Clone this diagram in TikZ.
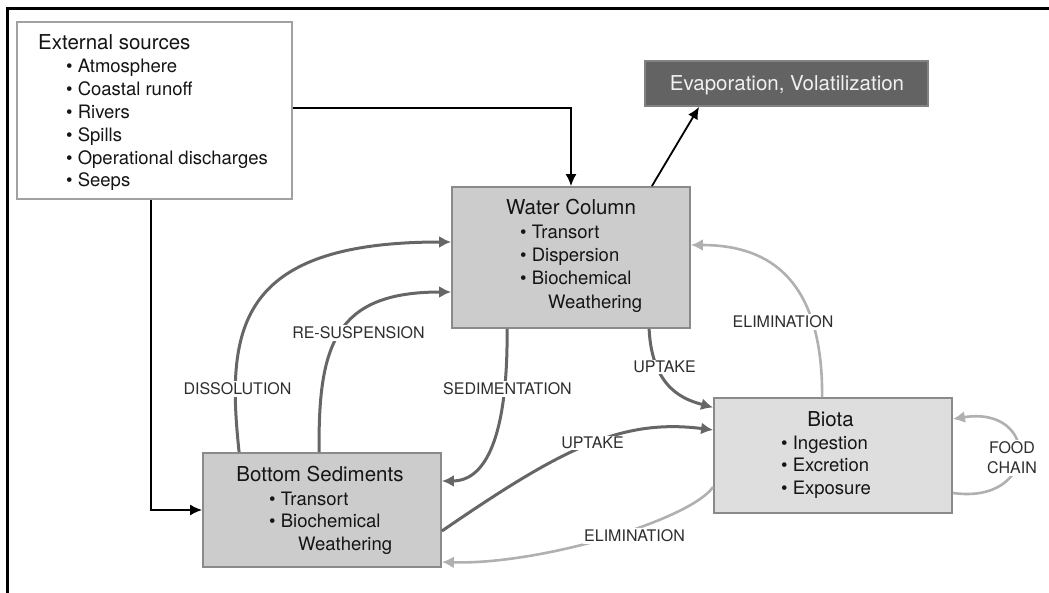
\documentclass[tikz,border=0pt]{standalone}
\usepackage{fontspec}
\setmainfont{TeX Gyre Heros}
\usetikzlibrary{arrows.meta}
\definecolor{boxborder}{HTML}{8A8A8A}
\definecolor{midfill}{HTML}{CCCCCC}
\definecolor{lightfill}{HTML}{DEDEDE}
\definecolor{evapfill}{HTML}{636363}
\definecolor{evaptext}{HTML}{F0F0F0}
\definecolor{darkarrow}{HTML}{666666}
\definecolor{lightarrow}{HTML}{B0B0B0}
\definecolor{lbltext}{HTML}{2E2E2E}
\definecolor{boxtext}{HTML}{151515}
\begin{document}
\begin{tikzpicture}[x=1pt,y=-1pt,
  boxnode/.style={draw=boxborder, line width=1.8pt, inner sep=0pt},
  hdr/.style={font=\fontsize{20.5}{24}\selectfont, text=boxtext, inner sep=0pt, anchor=base},
  itm/.style={font=\fontsize{18.5}{22}\selectfont, text=boxtext, inner sep=0pt, anchor=base west},
  lbl/.style={font=\fontsize{16}{19}\selectfont, text=lbltext, fill=white, inner sep=1.5pt},
  blk/.style={draw=black, line width=1.8pt, -{Latex[length=12pt,width=11pt]}},
  drk/.style={draw=darkarrow, line width=3pt, -{Latex[length=12pt,width=12pt]}},
  lgt/.style={draw=lightarrow, line width=2.6pt, -{Latex[length=12pt,width=12pt]}}
]
\useasboundingbox (0,0) rectangle (1049,593);
\draw[line width=2.4pt] (1049,8.5) -- (7.5,8.5) -- (7.5,593);

% boxes
\node[boxnode, fill=white, draw=boxborder!80!white, minimum width=275pt, minimum height=177pt] (ext) at (154.5,110.5) {};
\node[boxnode, fill=evapfill, draw=evapfill!80!white, minimum width=283pt, minimum height=45pt] (evap) at (786.5,83.5) {};
\node[boxnode, fill=midfill, minimum width=238pt, minimum height=141pt] (wc) at (571,257.5) {};
\node[boxnode, fill=midfill, minimum width=238pt, minimum height=114pt] (bs) at (322,510) {};
\node[boxnode, fill=lightfill, minimum width=238pt, minimum height=115pt] (biota) at (833,455.5) {};

% external sources text
\node[hdr, anchor=base west] (exth) at (38,50) {External sources};
\node[itm] (ext1) at (66,72.5) {\textbullet\ Atmosphere};
\node[itm] (ext2) at (66,95.4) {\textbullet\ Coastal runoff};
\node[itm] (ext3) at (66,118.3) {\textbullet\ Rivers};
\node[itm] (ext4) at (66,141.2) {\textbullet\ Spills};
\node[itm] (ext5) at (66,164.1) {\textbullet\ Operational discharges};
\node[itm] (ext6) at (66,187) {\textbullet\ Seeps};

% evaporation text
\node[hdr, text=evaptext] (evapt) at (787,91) {Evaporation, Volatilization};

% water column text
\node[hdr] (wch) at (571,215) {Water Column};
\node[itm] (wc1) at (520,238.3) {\textbullet\ Transort};
\node[itm] (wc2) at (520,261.7) {\textbullet\ Dispersion};
\node[itm] (wc3) at (520,284.5) {\textbullet\ Biochemical};
\node[itm] (wc4) at (548,308.3) {Weathering};

% bottom sediments text
\node[hdr] (bsh) at (320,481.7) {Bottom Sediments};
\node[itm] (bs1) at (269,505) {\textbullet\ Transort};
\node[itm] (bs2) at (269,527.5) {\textbullet\ Biochemical};
\node[itm] (bs3) at (298,550) {Weathering};

% biota text
\node[hdr] (bih) at (830.5,426) {Biota};
\node[itm] (bi1) at (781,449.3) {\textbullet\ Ingestion};
\node[itm] (bi2) at (781,471.7) {\textbullet\ Excretion};
\node[itm] (bi3) at (781,494.3) {\textbullet\ Exposure};

% black connectors
\draw[blk] ([yshift=2.5pt]ext.east) -| (wc.north);
\draw[blk] ([xshift=-3.5pt]ext.south) |- (bs.west);
\draw[blk] ([xshift=-39pt]wc.north east) -- ([xshift=55pt]evap.south west);

% dark gray connectors
\draw[drk] ([xshift=37pt]bs.north west) .. controls (226,330) and (236,242) .. ([yshift=15.5pt]wc.west);
\draw[drk] ([xshift=117pt]bs.north west) .. controls (318,345) and (335,292) .. ([yshift=-34.5pt]wc.west);
\draw[drk] ([xshift=56pt]wc.south west) .. controls (508,450) and (480,481) .. ([yshift=29pt]bs.east);
\draw[drk] ([xshift=198pt]wc.south west) .. controls (652,390) and (686,400) .. ([yshift=48pt]biota.west);
\draw[drk] ([yshift=-21pt]bs.east) .. controls (560,450) and (620,418) .. ([yshift=25.5pt]biota.west);

% light gray connectors
\draw[lgt] ([xshift=109pt]biota.north west) .. controls (823,270) and (760,245) .. ([yshift=12.5pt]wc.east);
\draw[lgt] ([yshift=-31.5pt]biota.west) .. controls (690,520) and (540,565) .. ([yshift=-52pt]bs.east);
\draw[lgt] ([yshift=-37.5pt]biota.east) .. controls (1040,505) and (1040,405) .. ([yshift=36.5pt]biota.east);

% labels
\node[lbl] (ldiss) at (237.5,389) {DISSOLUTION};
\node[lbl] (lres) at (358.5,333) {RE-SUSPENSION};
\node[lbl] (lsed) at (507.5,389) {SEDIMENTATION};
\node[lbl] (lup1) at (664.5,367) {UPTAKE};
\node[lbl] (lup2) at (592.5,443) {UPTAKE};
\node[lbl] (lel1) at (783,322) {ELIMINATION};
\node[lbl] (lel2) at (634.5,536) {ELIMINATION};
\node[lbl, align=center, font=\fontsize{16}{20}\selectfont] (lfood) at (1012,458) {FOOD\\CHAIN};
\end{tikzpicture}
\end{document}
